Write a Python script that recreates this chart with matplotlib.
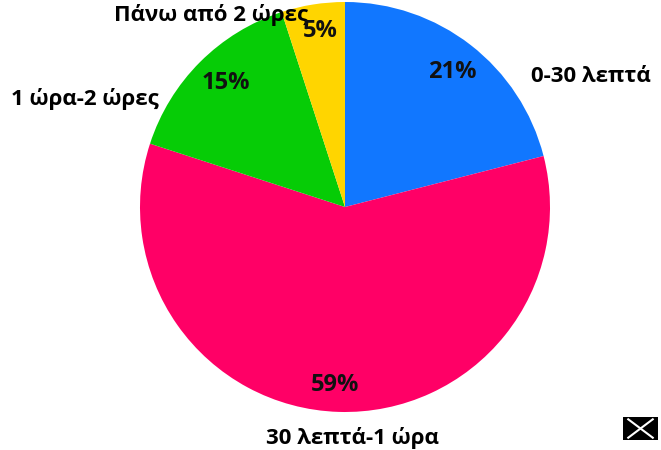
import matplotlib
matplotlib.use("Agg")
import matplotlib.pyplot as plt
from matplotlib.patches import Rectangle
from matplotlib.lines import Line2D

categories = ["0-30 λεπτά", "30 λεπτά-1 ώρα", "1 ώρα-2 ώρες", "Πάνω από 2 ώρες"]
values = [21, 59, 15, 5]
colors = ["#1177FF", "#FF0066", "#06CC06", "#FFD500"]

# label positions in pixel coordinates (x, y from top)
cat_pos = [(591, 77), (352, 438), (85, 99), (211, 15)]
pct_pos = [(452, 72), (335, 385), (226, 83), (320, 31)]

W, H = 661, 450
fig = plt.figure(figsize=(W / 100, H / 100), dpi=100)
plt.rcParams['font.family'] = ['Open Sans', 'DejaVu Sans']

cx, cy, r = 345, 207, 205
ax = fig.add_axes([(cx - r) / W, (H - cy - r) / H, 2 * r / W, 2 * r / H])
ax.pie(values, colors=colors, startangle=90, counterclock=False,
       wedgeprops=dict(edgecolor="none"), radius=1)
ax.set_xlim(-1, 1)
ax.set_ylim(-1, 1)
ax.set_aspect("equal")
ax.axis("off")

def to_fig(p):
    return p[0] / W, 1 - p[1] / H

total = sum(values)
for cat, v, cp, pp in zip(categories, values, cat_pos, pct_pos):
    fx, fy = to_fig(cp)
    fig.text(fx, fy, cat, ha="center", va="center", fontsize=16,
             fontweight="bold", color="black")
    fx, fy = to_fig(pp)
    fig.text(fx, fy, f"{round(v / total * 100)}%", ha="center", va="center",
             fontsize=17, fontweight="bold", color="#111111")

# small broken-image icon in bottom-right corner
icon = fig.add_axes([623 / W, (H - 440) / H, 35 / W, 23 / H])
icon.add_patch(Rectangle((0, 0), 1, 1, color="black"))
icon.add_line(Line2D([0.15, 0.85], [0.1, 0.9], color="white", lw=1.5))
icon.add_line(Line2D([0.15, 0.85], [0.9, 0.1], color="white", lw=1.5))
icon.set_xlim(0, 1)
icon.set_ylim(0, 1)
icon.axis("off")

fig.savefig("out.png", dpi=100)
